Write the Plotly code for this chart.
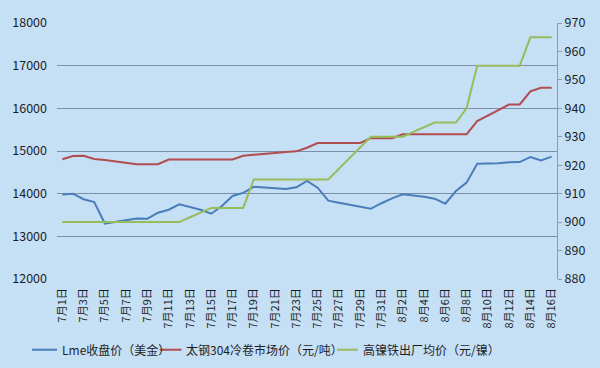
import plotly.graph_objects as go

dates = [f"7月{d}日" for d in range(1, 32)] + [f"8月{d}日" for d in range(1, 17)]

lme = [13980, 14000, 13870, 13805, 13300, 13343, 13383, 13420, 13413, 13554,
       13624, 13750, 13687, 13624, 13530, 13710, 13945, 14018, 14160, 14148,
       14128, 14110, 14148, 14297, 14140, 13836, 13788, 13742, 13699, 13645,
       13776, 13890, 13984, 13960, 13930, 13882, 13765, 14062, 14258, 14703,
       14703, 14710, 14734, 14740, 14860, 14781, 14867]

tisco = [14805, 14883, 14890, 14812, 14789, 14758, 14726, 14690, 14690, 14690,
         14800, 14800, 14800, 14800, 14800, 14800, 14800, 14890, 14906, 14930,
         14953, 14976, 14992, 15077, 15185, 15188, 15188, 15188, 15188, 15300,
         15300, 15300, 15390, 15390, 15390, 15390, 15390, 15390, 15390, 15703,
         15830, 15960, 16090, 16090, 16400, 16484, 16484]

nife = [900, 900, 900, 900, 900, 900, 900, 900, 900, 900,
        900, 900, 901.7, 903.3, 905, 905, 905, 905, 915, 915,
        915, 915, 915, 915, 915, 915, 918.75, 922.5, 926.25, 930,
        930, 930, 930, 931.7, 933.3, 935, 935, 935, 940, 955,
        955, 955, 955, 955, 965, 965, 965]

left_ticks = [12000, 13000, 14000, 15000, 16000, 17000, 18000]
left_labels = [str(v) for v in left_ticks]
right_ticks = [880, 890, 900, 910, 920, 930, 940, 950, 960, 970]
right_labels = [str(v) for v in right_ticks]

names = ["Lme收盘价（美金）", "太钢304冷卷市场价（元/吨）", "高镍铁出厂均价（元/镍）"]
colors = ["#4a7dba", "#b24d4f", "#98bb5c"]

font_family = "Noto Sans CJK SC, DejaVu Sans, sans-serif"

fig = go.Figure()
fig.add_trace(go.Scatter(x=dates, y=lme, name=names[0], mode="lines",
                         line=dict(color=colors[0], width=2)))
fig.add_trace(go.Scatter(x=dates, y=tisco, name=names[1], mode="lines",
                         line=dict(color=colors[1], width=2)))
fig.add_trace(go.Scatter(x=dates, y=nife, name=names[2], mode="lines",
                         line=dict(color=colors[2], width=2), yaxis="y2"))

# manual legend (paper coords: x 0..1 = px 55..557, y 0..1 = px 279..22)
def px_x(p):
    return (p - 55) / 502.0

def px_y(p):
    return (279 - p) / 257.0

legend_pos = [(30, 55, 58), (158, 180, 183), (336, 357, 360)]
for (x0, x1, xt), name, col in zip(legend_pos, names, colors):
    fig.add_shape(type="line", xref="paper", yref="paper",
                  x0=px_x(x0), x1=px_x(x1), y0=px_y(350), y1=px_y(350),
                  line=dict(color=col, width=2))
    fig.add_annotation(xref="paper", yref="paper", x=px_x(xt), y=px_y(350),
                       xanchor="left", yanchor="middle", text=name, showarrow=False,
                       font=dict(size=12, color="#1e1e1e", family=font_family))

fig.update_layout(
    width=600, height=368,
    margin=dict(l=55, r=43, t=22, b=89),
    paper_bgcolor="#c5dff5",
    plot_bgcolor="#c5dff5",
    font=dict(family=font_family, size=12, color="#1e1e1e"),
    showlegend=False,
    xaxis=dict(type="category", tickvals=dates[::2], ticktext=dates[::2],
               tickangle=-90, tickfont=dict(size=11), showgrid=False,
               showline=False, ticks="", zeroline=False, ticklabelstandoff=6,
               range=[-0.5, len(dates) - 0.5]),
    yaxis=dict(range=[12000, 18000], tickvals=left_ticks, ticktext=left_labels,
               showgrid=True, gridcolor="#7b8fa6", gridwidth=1, showline=False,
               ticks="", zeroline=False, tickfont=dict(size=12.5), ticklabelstandoff=9),
    yaxis2=dict(range=[880, 970], tickvals=right_ticks, ticktext=right_labels,
                overlaying="y", side="right",
                showgrid=False, showline=True, linecolor="#8a9bb0", linewidth=1,
                ticks="outside", ticklen=4, tickcolor="#8a9bb0", zeroline=False,
                tickfont=dict(size=12.5)),
)

fig.write_html("out.html", config={"displayModeBar": False},
               post_script="document.body.style.margin='0';document.body.style.background='#c5dff5';")
